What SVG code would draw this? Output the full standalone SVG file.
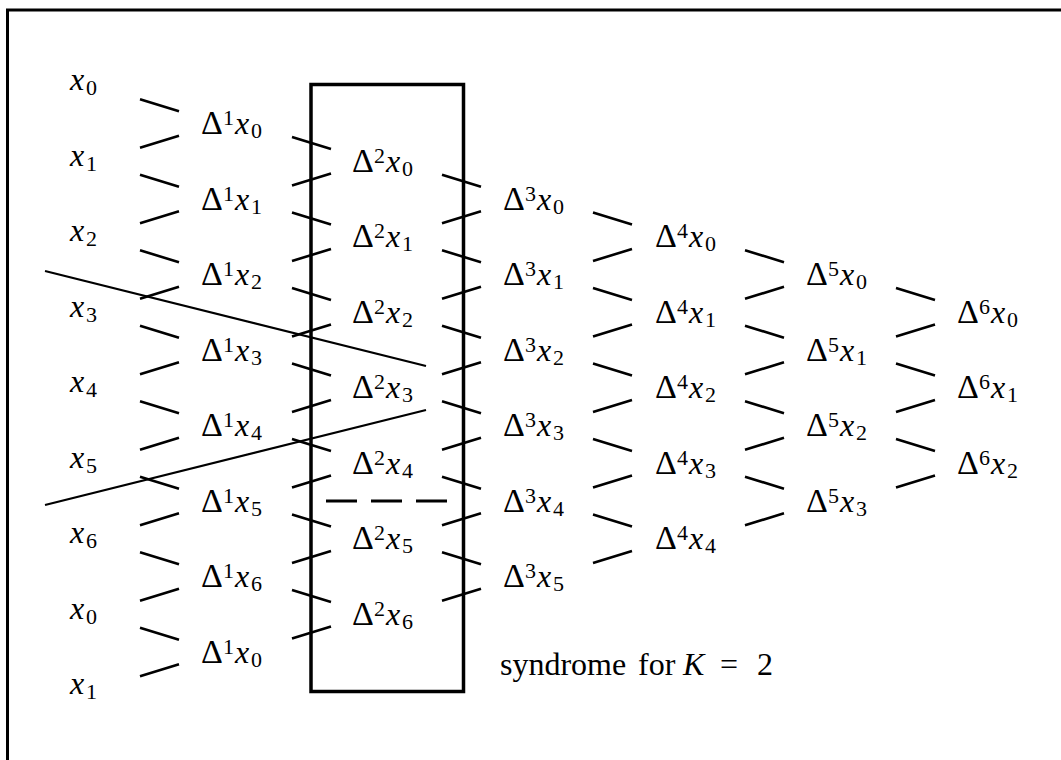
<svg xmlns="http://www.w3.org/2000/svg" width="1061" height="760" viewBox="0 0 1061 760">
<rect width="1061" height="760" fill="#fff"/>
<path d="M1080,10 H7.5 V780" fill="none" stroke="#000" stroke-width="3"/>
<g id="connectors" fill="none" stroke="#000" stroke-width="2.6">
<path d="M140,99.25L179,111.25M140,147.75L179,135.75M140,174.75L179,186.75M140,223.25L179,211.25M140,250.25L179,262.25M140,298.75L179,286.75M140,325.75L179,337.75M140,374.25L179,362.25M140,401.25L179,413.25M140,449.75L179,437.75M140,476.75L179,488.75M140,525.25L179,513.25M140,552.25L179,564.25M140,600.75L179,588.75M140,627.75L179,639.75M140,676.25L179,664.25"/>
<path d="M292,137L331,149M292,185.5L331,173.5M292,212.5L331,224.5M292,261L331,249M292,288L331,300M292,336.5L331,324.5M292,363.5L331,375.5M292,412L331,400M292,439L331,451M292,487.5L331,475.5M292,514.5L331,526.5M292,563L331,551M292,590L331,602M292,638.5L331,626.5"/>
<path d="M442,174.75L481,186.75M442,223.25L481,211.25M442,250.25L481,262.25M442,298.75L481,286.75M442,325.75L481,337.75M442,374.25L481,362.25M442,401.25L481,413.25M442,449.75L481,437.75M442,476.75L481,488.75M442,525.25L481,513.25M442,552.25L481,564.25M442,600.75L481,588.75"/>
<path d="M593,212.5L632,224.5M593,261L632,249M593,288L632,300M593,336.5L632,324.5M593,363.5L632,375.5M593,412L632,400M593,439L632,451M593,487.5L632,475.5M593,514.5L632,526.5M593,563L632,551"/>
<path d="M745,250.25L784,262.25M745,298.75L784,286.75M745,325.75L784,337.75M745,374.25L784,362.25M745,401.25L784,413.25M745,449.75L784,437.75M745,476.75L784,488.75M745,525.25L784,513.25"/>
<path d="M896,288L935,300M896,336.5L935,324.5M896,363.5L935,375.5M896,412L935,400M896,439L935,451M896,487.5L935,475.5"/>
<line x1="45" y1="271" x2="426" y2="366" stroke-width="2.2"/>
<line x1="45" y1="505" x2="426" y2="410" stroke-width="2.2"/>
</g>
<g id="syndrome-box">
<rect x="311" y="84.5" width="152.5" height="607" fill="none" stroke="#000" stroke-width="3.5"/>
<line x1="326" y1="501" x2="448" y2="501" stroke="#000" stroke-width="3" stroke-dasharray="31 14"/>
<text x="500" y="675" font-size="32" font-family="Liberation Serif">syndrome</text>
<text x="638" y="675" font-size="32" font-family="Liberation Serif">for</text>
<text x="683" y="675" font-size="32" font-family="Liberation Serif" font-style="italic">K</text>
<text x="720" y="675" font-size="32" font-family="Liberation Serif">=</text>
<text x="757" y="675" font-size="32" font-family="Liberation Serif">2</text>
</g>
<g id="col0">
<g id="x0a"><text x="70" y="90" font-size="32" font-family="Liberation Serif" font-style="italic">x</text><text x="86" y="95" font-size="22" font-family="Liberation Serif">0</text></g>
<g id="x1a"><text x="70" y="165.5" font-size="32" font-family="Liberation Serif" font-style="italic">x</text><text x="86" y="170.5" font-size="22" font-family="Liberation Serif">1</text></g>
<g id="x2"><text x="70" y="241" font-size="32" font-family="Liberation Serif" font-style="italic">x</text><text x="86" y="246" font-size="22" font-family="Liberation Serif">2</text></g>
<g id="x3"><text x="70" y="316.5" font-size="32" font-family="Liberation Serif" font-style="italic">x</text><text x="86" y="321.5" font-size="22" font-family="Liberation Serif">3</text></g>
<g id="x4"><text x="70" y="392" font-size="32" font-family="Liberation Serif" font-style="italic">x</text><text x="86" y="397" font-size="22" font-family="Liberation Serif">4</text></g>
<g id="x5"><text x="70" y="467.5" font-size="32" font-family="Liberation Serif" font-style="italic">x</text><text x="86" y="472.5" font-size="22" font-family="Liberation Serif">5</text></g>
<g id="x6"><text x="70" y="543" font-size="32" font-family="Liberation Serif" font-style="italic">x</text><text x="86" y="548" font-size="22" font-family="Liberation Serif">6</text></g>
<g id="x0b"><text x="70" y="618.5" font-size="32" font-family="Liberation Serif" font-style="italic">x</text><text x="86" y="623.5" font-size="22" font-family="Liberation Serif">0</text></g>
<g id="x1b"><text x="70" y="694" font-size="32" font-family="Liberation Serif" font-style="italic">x</text><text x="86" y="699" font-size="22" font-family="Liberation Serif">1</text></g>
</g>
<g id="col1">
<g id="d1x0a"><text x="201" y="134" font-size="34" font-family="Liberation Serif">Δ</text><text x="223" y="125" font-size="22" font-family="Liberation Serif">1</text><text x="235" y="134" font-size="32" font-family="Liberation Serif" font-style="italic">x</text><text x="251" y="138" font-size="22" font-family="Liberation Serif">0</text></g>
<g id="d1x1"><text x="201" y="209.5" font-size="34" font-family="Liberation Serif">Δ</text><text x="223" y="200.5" font-size="22" font-family="Liberation Serif">1</text><text x="235" y="209.5" font-size="32" font-family="Liberation Serif" font-style="italic">x</text><text x="251" y="213.5" font-size="22" font-family="Liberation Serif">1</text></g>
<g id="d1x2"><text x="201" y="285" font-size="34" font-family="Liberation Serif">Δ</text><text x="223" y="276" font-size="22" font-family="Liberation Serif">1</text><text x="235" y="285" font-size="32" font-family="Liberation Serif" font-style="italic">x</text><text x="251" y="289" font-size="22" font-family="Liberation Serif">2</text></g>
<g id="d1x3"><text x="201" y="360.5" font-size="34" font-family="Liberation Serif">Δ</text><text x="223" y="351.5" font-size="22" font-family="Liberation Serif">1</text><text x="235" y="360.5" font-size="32" font-family="Liberation Serif" font-style="italic">x</text><text x="251" y="364.5" font-size="22" font-family="Liberation Serif">3</text></g>
<g id="d1x4"><text x="201" y="436" font-size="34" font-family="Liberation Serif">Δ</text><text x="223" y="427" font-size="22" font-family="Liberation Serif">1</text><text x="235" y="436" font-size="32" font-family="Liberation Serif" font-style="italic">x</text><text x="251" y="440" font-size="22" font-family="Liberation Serif">4</text></g>
<g id="d1x5"><text x="201" y="511.5" font-size="34" font-family="Liberation Serif">Δ</text><text x="223" y="502.5" font-size="22" font-family="Liberation Serif">1</text><text x="235" y="511.5" font-size="32" font-family="Liberation Serif" font-style="italic">x</text><text x="251" y="515.5" font-size="22" font-family="Liberation Serif">5</text></g>
<g id="d1x6"><text x="201" y="587" font-size="34" font-family="Liberation Serif">Δ</text><text x="223" y="578" font-size="22" font-family="Liberation Serif">1</text><text x="235" y="587" font-size="32" font-family="Liberation Serif" font-style="italic">x</text><text x="251" y="591" font-size="22" font-family="Liberation Serif">6</text></g>
<g id="d1x0b"><text x="201" y="662.5" font-size="34" font-family="Liberation Serif">Δ</text><text x="223" y="653.5" font-size="22" font-family="Liberation Serif">1</text><text x="235" y="662.5" font-size="32" font-family="Liberation Serif" font-style="italic">x</text><text x="251" y="666.5" font-size="22" font-family="Liberation Serif">0</text></g>
</g>
<g id="col2">
<g id="d2x0"><text x="352" y="171.75" font-size="34" font-family="Liberation Serif">Δ</text><text x="374" y="162.75" font-size="22" font-family="Liberation Serif">2</text><text x="386" y="171.75" font-size="32" font-family="Liberation Serif" font-style="italic">x</text><text x="402" y="175.75" font-size="22" font-family="Liberation Serif">0</text></g>
<g id="d2x1"><text x="352" y="247.25" font-size="34" font-family="Liberation Serif">Δ</text><text x="374" y="238.25" font-size="22" font-family="Liberation Serif">2</text><text x="386" y="247.25" font-size="32" font-family="Liberation Serif" font-style="italic">x</text><text x="402" y="251.25" font-size="22" font-family="Liberation Serif">1</text></g>
<g id="d2x2"><text x="352" y="322.75" font-size="34" font-family="Liberation Serif">Δ</text><text x="374" y="313.75" font-size="22" font-family="Liberation Serif">2</text><text x="386" y="322.75" font-size="32" font-family="Liberation Serif" font-style="italic">x</text><text x="402" y="326.75" font-size="22" font-family="Liberation Serif">2</text></g>
<g id="d2x3"><text x="352" y="398.25" font-size="34" font-family="Liberation Serif">Δ</text><text x="374" y="389.25" font-size="22" font-family="Liberation Serif">2</text><text x="386" y="398.25" font-size="32" font-family="Liberation Serif" font-style="italic">x</text><text x="402" y="402.25" font-size="22" font-family="Liberation Serif">3</text></g>
<g id="d2x4"><text x="352" y="473.75" font-size="34" font-family="Liberation Serif">Δ</text><text x="374" y="464.75" font-size="22" font-family="Liberation Serif">2</text><text x="386" y="473.75" font-size="32" font-family="Liberation Serif" font-style="italic">x</text><text x="402" y="477.75" font-size="22" font-family="Liberation Serif">4</text></g>
<g id="d2x5"><text x="352" y="549.25" font-size="34" font-family="Liberation Serif">Δ</text><text x="374" y="540.25" font-size="22" font-family="Liberation Serif">2</text><text x="386" y="549.25" font-size="32" font-family="Liberation Serif" font-style="italic">x</text><text x="402" y="553.25" font-size="22" font-family="Liberation Serif">5</text></g>
<g id="d2x6"><text x="352" y="624.75" font-size="34" font-family="Liberation Serif">Δ</text><text x="374" y="615.75" font-size="22" font-family="Liberation Serif">2</text><text x="386" y="624.75" font-size="32" font-family="Liberation Serif" font-style="italic">x</text><text x="402" y="628.75" font-size="22" font-family="Liberation Serif">6</text></g>
</g>
<g id="col3">
<g id="d3x0"><text x="503" y="209.5" font-size="34" font-family="Liberation Serif">Δ</text><text x="525" y="200.5" font-size="22" font-family="Liberation Serif">3</text><text x="537" y="209.5" font-size="32" font-family="Liberation Serif" font-style="italic">x</text><text x="553" y="213.5" font-size="22" font-family="Liberation Serif">0</text></g>
<g id="d3x1"><text x="503" y="285" font-size="34" font-family="Liberation Serif">Δ</text><text x="525" y="276" font-size="22" font-family="Liberation Serif">3</text><text x="537" y="285" font-size="32" font-family="Liberation Serif" font-style="italic">x</text><text x="553" y="289" font-size="22" font-family="Liberation Serif">1</text></g>
<g id="d3x2"><text x="503" y="360.5" font-size="34" font-family="Liberation Serif">Δ</text><text x="525" y="351.5" font-size="22" font-family="Liberation Serif">3</text><text x="537" y="360.5" font-size="32" font-family="Liberation Serif" font-style="italic">x</text><text x="553" y="364.5" font-size="22" font-family="Liberation Serif">2</text></g>
<g id="d3x3"><text x="503" y="436" font-size="34" font-family="Liberation Serif">Δ</text><text x="525" y="427" font-size="22" font-family="Liberation Serif">3</text><text x="537" y="436" font-size="32" font-family="Liberation Serif" font-style="italic">x</text><text x="553" y="440" font-size="22" font-family="Liberation Serif">3</text></g>
<g id="d3x4"><text x="503" y="511.5" font-size="34" font-family="Liberation Serif">Δ</text><text x="525" y="502.5" font-size="22" font-family="Liberation Serif">3</text><text x="537" y="511.5" font-size="32" font-family="Liberation Serif" font-style="italic">x</text><text x="553" y="515.5" font-size="22" font-family="Liberation Serif">4</text></g>
<g id="d3x5"><text x="503" y="587" font-size="34" font-family="Liberation Serif">Δ</text><text x="525" y="578" font-size="22" font-family="Liberation Serif">3</text><text x="537" y="587" font-size="32" font-family="Liberation Serif" font-style="italic">x</text><text x="553" y="591" font-size="22" font-family="Liberation Serif">5</text></g>
</g>
<g id="col4">
<g id="d4x0"><text x="655" y="247.25" font-size="34" font-family="Liberation Serif">Δ</text><text x="677" y="238.25" font-size="22" font-family="Liberation Serif">4</text><text x="689" y="247.25" font-size="32" font-family="Liberation Serif" font-style="italic">x</text><text x="705" y="251.25" font-size="22" font-family="Liberation Serif">0</text></g>
<g id="d4x1"><text x="655" y="322.75" font-size="34" font-family="Liberation Serif">Δ</text><text x="677" y="313.75" font-size="22" font-family="Liberation Serif">4</text><text x="689" y="322.75" font-size="32" font-family="Liberation Serif" font-style="italic">x</text><text x="705" y="326.75" font-size="22" font-family="Liberation Serif">1</text></g>
<g id="d4x2"><text x="655" y="398.25" font-size="34" font-family="Liberation Serif">Δ</text><text x="677" y="389.25" font-size="22" font-family="Liberation Serif">4</text><text x="689" y="398.25" font-size="32" font-family="Liberation Serif" font-style="italic">x</text><text x="705" y="402.25" font-size="22" font-family="Liberation Serif">2</text></g>
<g id="d4x3"><text x="655" y="473.75" font-size="34" font-family="Liberation Serif">Δ</text><text x="677" y="464.75" font-size="22" font-family="Liberation Serif">4</text><text x="689" y="473.75" font-size="32" font-family="Liberation Serif" font-style="italic">x</text><text x="705" y="477.75" font-size="22" font-family="Liberation Serif">3</text></g>
<g id="d4x4"><text x="655" y="549.25" font-size="34" font-family="Liberation Serif">Δ</text><text x="677" y="540.25" font-size="22" font-family="Liberation Serif">4</text><text x="689" y="549.25" font-size="32" font-family="Liberation Serif" font-style="italic">x</text><text x="705" y="553.25" font-size="22" font-family="Liberation Serif">4</text></g>
</g>
<g id="col5">
<g id="d5x0"><text x="806" y="285" font-size="34" font-family="Liberation Serif">Δ</text><text x="828" y="276" font-size="22" font-family="Liberation Serif">5</text><text x="840" y="285" font-size="32" font-family="Liberation Serif" font-style="italic">x</text><text x="856" y="289" font-size="22" font-family="Liberation Serif">0</text></g>
<g id="d5x1"><text x="806" y="360.5" font-size="34" font-family="Liberation Serif">Δ</text><text x="828" y="351.5" font-size="22" font-family="Liberation Serif">5</text><text x="840" y="360.5" font-size="32" font-family="Liberation Serif" font-style="italic">x</text><text x="856" y="364.5" font-size="22" font-family="Liberation Serif">1</text></g>
<g id="d5x2"><text x="806" y="436" font-size="34" font-family="Liberation Serif">Δ</text><text x="828" y="427" font-size="22" font-family="Liberation Serif">5</text><text x="840" y="436" font-size="32" font-family="Liberation Serif" font-style="italic">x</text><text x="856" y="440" font-size="22" font-family="Liberation Serif">2</text></g>
<g id="d5x3"><text x="806" y="511.5" font-size="34" font-family="Liberation Serif">Δ</text><text x="828" y="502.5" font-size="22" font-family="Liberation Serif">5</text><text x="840" y="511.5" font-size="32" font-family="Liberation Serif" font-style="italic">x</text><text x="856" y="515.5" font-size="22" font-family="Liberation Serif">3</text></g>
</g>
<g id="col6">
<g id="d6x0"><text x="957" y="322.75" font-size="34" font-family="Liberation Serif">Δ</text><text x="979" y="313.75" font-size="22" font-family="Liberation Serif">6</text><text x="991" y="322.75" font-size="32" font-family="Liberation Serif" font-style="italic">x</text><text x="1007" y="326.75" font-size="22" font-family="Liberation Serif">0</text></g>
<g id="d6x1"><text x="957" y="398.25" font-size="34" font-family="Liberation Serif">Δ</text><text x="979" y="389.25" font-size="22" font-family="Liberation Serif">6</text><text x="991" y="398.25" font-size="32" font-family="Liberation Serif" font-style="italic">x</text><text x="1007" y="402.25" font-size="22" font-family="Liberation Serif">1</text></g>
<g id="d6x2"><text x="957" y="473.75" font-size="34" font-family="Liberation Serif">Δ</text><text x="979" y="464.75" font-size="22" font-family="Liberation Serif">6</text><text x="991" y="473.75" font-size="32" font-family="Liberation Serif" font-style="italic">x</text><text x="1007" y="477.75" font-size="22" font-family="Liberation Serif">2</text></g>
</g>
</svg>
